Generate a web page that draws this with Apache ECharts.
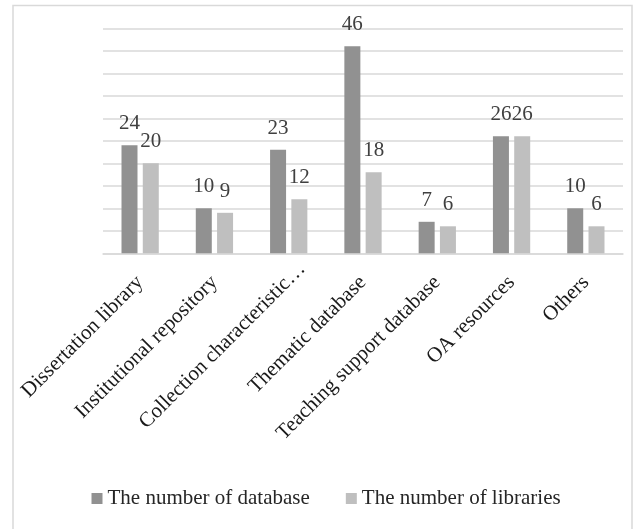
<!DOCTYPE html>
<html>
<head>
<meta charset="utf-8">
<script src="https://cdn.jsdelivr.net/npm/echarts@6/dist/echarts.min.js"></script>
<style>
html,body{margin:0;padding:0;background:#fff;}
#c{width:635px;height:529px;}
</style>
</head>
<body>
<div id="c"></div>
<script>
const categories = ["Dissertation library", "Institutional repository", "Collection characteristic\u2026", "Thematic database", "Teaching support database", "OA resources", "Others"];
const seriesNames = ["The number of database", "The number of libraries"];
const databaseCounts = [24, 10, 23, 46, 7, 26, 10];
const libraryCounts = [20, 9, 12, 18, 6, 26, 6];

const FONT = "Liberation Serif";
const chart = echarts.init(document.getElementById('c'), null, {renderer: 'canvas'});
const labelStyle = {show: true, position: 'top', distance: 11, fontFamily: FONT, fontSize: 21, color: '#404040'};
const categoryData = categories.map(function (c, i) {
  return i === 2 ? {value: c, textStyle: {padding: [0, -19, 0, 0]}} : c;
});
chart.setOption({
  animation: false,
  backgroundColor: '#fff',
  textStyle: {fontFamily: FONT},
  graphic: [{
    type: 'rect', silent: true, z: -1,
    shape: {x: 13, y: 5.5, width: 619, height: 560},
    style: {fill: 'none', stroke: '#d9d9d9', lineWidth: 1.5}
  }],
  grid: {left: 103, right: 12, top: 28.3, bottom: 275.7, containLabel: false},
  legend: {
    data: seriesNames, left: 91.5, top: 488, itemGap: 36, padding: 0,
    itemWidth: 11, itemHeight: 11, icon: 'rect',
    textStyle: {fontFamily: FONT, fontSize: 21, color: '#262626'}
  },
  xAxis: {
    type: 'category', data: categoryData,
    axisLine: {lineStyle: {color: '#d9d9d9', width: 1.5}},
    axisTick: {show: false},
    axisLabel: {rotate: 45, margin: 26, interval: 0, fontFamily: FONT, fontSize: 21, color: '#1a1a1a'}
  },
  yAxis: {
    type: 'value', min: 0, max: 50, interval: 5,
    axisLine: {show: false}, axisTick: {show: false}, axisLabel: {show: false},
    splitLine: {lineStyle: {color: '#d9d9d9', width: 1.5}}
  },
  series: [
    {name: seriesNames[0], type: 'bar', data: databaseCounts, barWidth: 16, barGap: '33%',
     itemStyle: {color: '#919191'}, label: labelStyle},
    {name: seriesNames[1], type: 'bar', data: libraryCounts, barWidth: 16, barGap: '33%',
     itemStyle: {color: '#bfbfbf'}, label: labelStyle}
  ]
});
</script>
</body>
</html>
